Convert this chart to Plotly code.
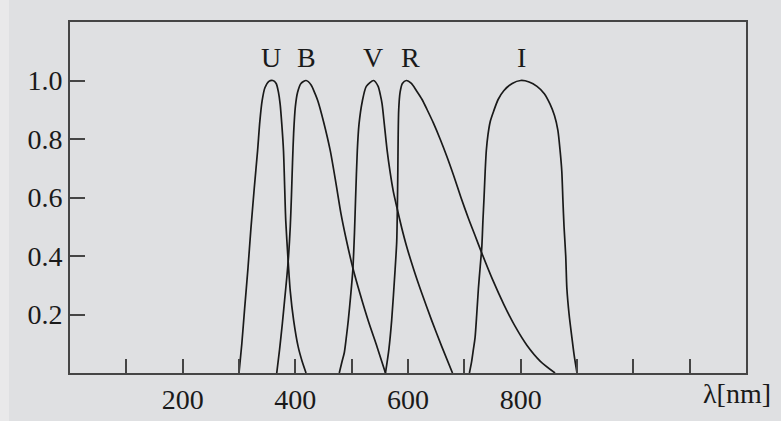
import plotly.graph_objects as go

# Filter transmission curves (wavelength nm, relative transmission)
u_wl = [300, 305, 310, 316, 321, 327, 333, 337, 341, 346, 353, 360, 366, 370, 373, 376, 379, 381, 383, 387, 391, 397, 405, 412, 419]
u_tr = [0.0, 0.1, 0.22, 0.36, 0.49, 0.63, 0.76, 0.86, 0.93, 0.975, 0.997, 1.0, 0.99, 0.96, 0.92, 0.85, 0.76, 0.64, 0.52, 0.39, 0.28, 0.18, 0.09, 0.04, 0.0]

b_wl = [367, 372, 377, 381, 385, 388, 391, 393, 395, 397, 400, 404, 410, 419, 428, 435, 440, 450, 462, 472, 481, 490, 502, 515, 530, 545, 560]
b_tr = [0.0, 0.08, 0.17, 0.25, 0.33, 0.4, 0.5, 0.6, 0.72, 0.82, 0.91, 0.96, 0.99, 1.0, 0.985, 0.955, 0.93, 0.86, 0.76, 0.65, 0.545, 0.46, 0.36, 0.27, 0.175, 0.09, 0.0]

v_wl = [478, 483, 487, 491, 494, 498, 502, 505, 507, 510, 513, 519, 526, 539, 547, 551, 554, 558, 563, 568, 574, 581, 589, 598, 610, 625, 642, 660, 679]
v_tr = [0.0, 0.04, 0.07, 0.13, 0.18, 0.26, 0.35, 0.48, 0.6, 0.76, 0.85, 0.93, 0.98, 1.0, 0.98, 0.95, 0.92, 0.85, 0.76, 0.69, 0.62, 0.56, 0.495, 0.43, 0.355, 0.27, 0.18, 0.09, 0.0]

r_wl = [560, 566, 571, 577, 580, 581, 582, 582.5, 583.5, 586, 590, 597, 606, 615, 625, 634, 645, 657, 669, 681, 694, 707, 719, 731, 750, 770, 790, 811, 835, 861]
r_tr = [0.0, 0.08, 0.18, 0.35, 0.45, 0.55, 0.7, 0.8, 0.9, 0.96, 0.99, 1.0, 0.99, 0.965, 0.935, 0.9, 0.855, 0.8, 0.74, 0.675, 0.6, 0.53, 0.47, 0.41, 0.32, 0.235, 0.16, 0.095, 0.04, 0.0]

i_wl = [709, 713, 716, 719, 722, 725, 728, 731, 733, 735, 737, 739, 742, 746, 752, 760, 770, 785, 800, 815, 829, 842, 852, 860, 866, 870, 873, 875, 877, 880, 882, 886, 891, 895, 900]
i_tr = [0.0, 0.04, 0.08, 0.12, 0.2, 0.29, 0.36, 0.43, 0.52, 0.6, 0.69, 0.76, 0.815, 0.86, 0.895, 0.935, 0.965, 0.99, 1.0, 0.995, 0.98, 0.955, 0.92, 0.88, 0.83, 0.76, 0.69, 0.59, 0.5, 0.4, 0.29, 0.2, 0.12, 0.06, 0.0]

band_names = ["U", "B", "V", "R", "I"]
band_label_x = [357, 419, 538, 605, 802]
band_label_y = 1.08

x_tick_vals = [100, 200, 300, 400, 500, 600, 700, 800, 900, 1000, 1100]
x_tick_text = ["", "200", "", "400", "", "600", "", "800", "", "", ""]
y_tick_vals = [0.2, 0.4, 0.6, 0.8, 1.0]
y_tick_text = ["0.2", "0.4", "0.6", "0.8", "1.0"]
x_axis_title = "λ[nm]"

FONT = "Liberation Serif"
BG = "#dfe0e2"
AX = "#454545"
INK = "#1a1a1a"
FS = 28

fig = go.Figure()
for wl, tr in [(u_wl, u_tr), (b_wl, b_tr), (v_wl, v_tr), (r_wl, r_tr), (i_wl, i_tr)]:
    fig.add_trace(go.Scatter(x=wl, y=tr, mode="lines",
                             line=dict(color=INK, width=1.7, shape="spline", smoothing=0.7),
                             showlegend=False, hoverinfo="skip"))

for name, lx in zip(band_names, band_label_x):
    fig.add_annotation(x=lx, y=band_label_y, text=name, showarrow=False,
                       font=dict(family=FONT, size=FS, color=INK),
                       xanchor="center", yanchor="middle")

fig.add_annotation(x=1184, xref="x", y=-0.057, yref="paper", text=x_axis_title,
                   showarrow=False, font=dict(family=FONT, size=FS, color=INK),
                   xanchor="center", yanchor="middle")

fig.add_shape(type="rect", xref="paper", yref="paper",
              x0=-70/676, x1=-61/676, y0=-2, y1=2,
              fillcolor="#e9e9ea", line=dict(width=0), layer="below")

fig.update_layout(
    width=781, height=421,
    margin=dict(l=70, r=35, t=22, b=48, autoexpand=False),
    paper_bgcolor=BG, plot_bgcolor=BG,
    font=dict(family=FONT, size=FS, color=INK),
    xaxis=dict(range=[0, 1200], tickvals=x_tick_vals, ticktext=x_tick_text,
               ticks="inside", ticklen=14, tickwidth=1.8, tickcolor=AX,
               showline=True, linecolor=AX, linewidth=2, mirror=True,
               showgrid=False, zeroline=False, fixedrange=True,
               tickfont=dict(family=FONT, size=FS, color=INK)),
    yaxis=dict(range=[0, 1.2], tickvals=y_tick_vals, ticktext=y_tick_text,
               ticks="inside", ticklen=15, tickwidth=1.8, tickcolor=AX,
               showline=True, linecolor=AX, linewidth=2, mirror=True,
               showgrid=False, zeroline=False, fixedrange=True,
               tickfont=dict(family=FONT, size=FS, color=INK)),
)

fig.write_html("out.html", config={"displayModeBar": False})
